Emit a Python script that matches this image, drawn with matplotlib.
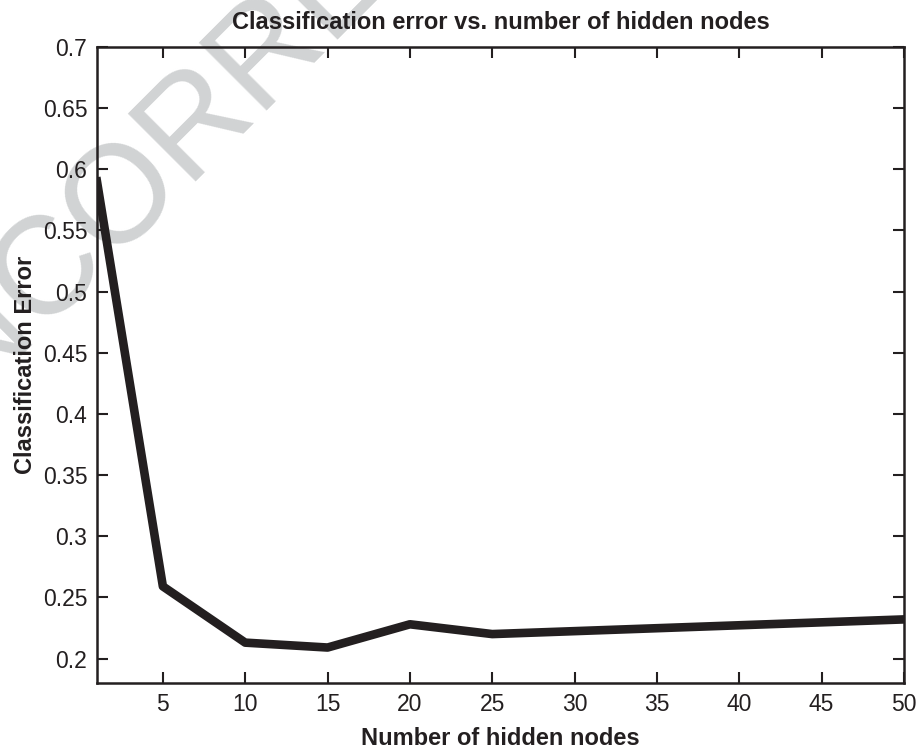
import matplotlib
matplotlib.use("Agg")
import matplotlib.pyplot as plt

hidden_nodes = [1, 5, 10, 15, 20, 25, 50]
class_error = [0.590, 0.259, 0.213, 0.209, 0.228, 0.220, 0.232]
x_ticks = [5, 10, 15, 20, 25, 30, 35, 40, 45, 50]
y_ticks = [0.2, 0.25, 0.3, 0.35, 0.4, 0.45, 0.5, 0.55, 0.6, 0.65, 0.7]
y_tick_labels = ["0.2", "0.25", "0.3", "0.35", "0.4", "0.45", "0.5", "0.55", "0.6", "0.65", "0.7"]

plt.rcParams['font.family'] = ['Liberation Sans', 'DejaVu Sans']
ink = '#231f20'

fig = plt.figure(figsize=(9.16, 7.48), dpi=100)
fig.patch.set_facecolor('white')

# watermark (behind everything)
fig.text(-0.11, 0.36, "UNCORRECTED PROOF", rotation=45, rotation_mode='anchor',
         ha='left', va='baseline', fontsize=100, color='#d1d3d4', zorder=-5)

ax = fig.add_axes([97/916, 1-683/748, 807/916, 636/748])
ax.set_zorder(1)
ax.set_facecolor('none')
ax.plot(hidden_nodes, class_error, color=ink, linewidth=6.2, zorder=3)
ax.set_xlim(1, 50)
ax.set_ylim(0.18, 0.7)
ax.set_xticks(x_ticks)
ax.set_yticks(y_ticks)
ax.set_yticklabels(y_tick_labels)
ax.tick_params(direction='in', length=8, width=1.5, top=True, right=True,
               labelsize=16.5, colors=ink, pad=7)
for s in ax.spines.values():
    s.set_linewidth(1.8)
    s.set_color(ink)
ax.set_title("Classification error vs. number of hidden nodes", fontsize=17,
             fontweight='bold', color=ink, pad=13)
ax.set_xlabel("Number of hidden nodes", fontsize=17, fontweight='bold', color=ink, labelpad=8)
ax.set_ylabel("Classification Error", fontsize=17, fontweight='bold', color=ink, labelpad=4)

fig.savefig("out.png", dpi=100)
